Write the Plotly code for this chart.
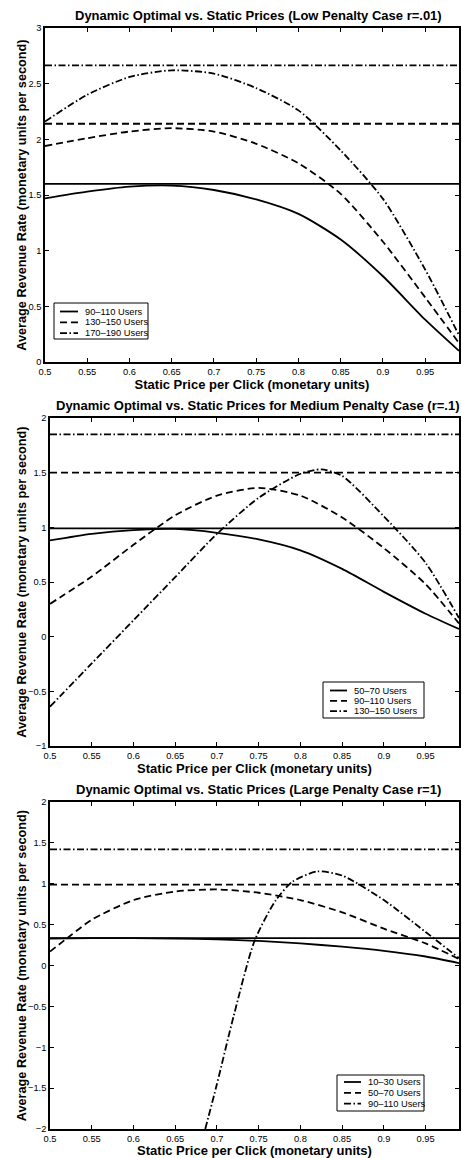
import plotly.graph_objects as go

# ---------------- data ----------------
price_grid = [0.5, 0.55, 0.6, 0.65, 0.7, 0.75, 0.8, 0.85, 0.9, 0.95, 0.99]

# Panel 1 (Low penalty r=.01)
p1_names = ["90\u2013110 Users", "130\u2013150 Users", "170\u2013190 Users"]
p1_dynamic = [1.60, 2.14, 2.665]
p1_solid = [1.47, 1.53, 1.575, 1.585, 1.545, 1.46, 1.33, 1.10, 0.77, 0.38, 0.10]
p1_dash = [1.94, 2.01, 2.07, 2.10, 2.07, 1.96, 1.785, 1.51, 1.08, 0.58, 0.17]
p1_dashdot = [2.16, 2.40, 2.56, 2.62, 2.59, 2.46, 2.26, 1.90, 1.465, 0.83, 0.24]

# Panel 2 (Medium penalty r=.1)
p2_names = ["50\u201370 Users", "90\u2013110 Users", "130\u2013150 Users"]
p2_dynamic = [0.99, 1.50, 1.85]
p2_solid = [0.88, 0.94, 0.975, 0.985, 0.95, 0.89, 0.79, 0.62, 0.41, 0.21, 0.07]
p2_dash = [0.30, 0.55, 0.84, 1.11, 1.29, 1.36, 1.29, 1.09, 0.81, 0.48, 0.12]
p2_dd_x = [0.5, 0.55, 0.6, 0.65, 0.7, 0.75, 0.8, 0.825, 0.85, 0.9, 0.95, 0.99]
p2_dashdot = [-0.64, -0.245, 0.15, 0.545, 0.94, 1.27, 1.49, 1.53, 1.47, 1.10, 0.675, 0.17]

# Panel 3 (Large penalty r=1)
p3_names = ["10\u201330 Users", "50\u201370 Users", "90\u2013110 Users"]
p3_dynamic = [0.335, 0.99, 1.42]
p3_solid = [0.33, 0.335, 0.335, 0.33, 0.32, 0.30, 0.27, 0.23, 0.18, 0.11, 0.03]
p3_dash_x = [0.5, 0.525, 0.55, 0.6, 0.65, 0.7, 0.75, 0.8, 0.85, 0.9, 0.95, 0.99]
p3_dash = [0.17, 0.37, 0.56, 0.80, 0.905, 0.93, 0.89, 0.80, 0.65, 0.45, 0.27, 0.08]
p3_dd_x = [0.686, 0.7, 0.72, 0.745, 0.77, 0.79, 0.82, 0.85, 0.9, 0.95, 0.99]
p3_dashdot = [-2.0, -1.45, -0.62, 0.30, 0.79, 1.02, 1.15, 1.10, 0.80, 0.41, 0.09]

x_range = [0.5, 0.99]
x_ticks = [0.5, 0.55, 0.6, 0.65, 0.7, 0.75, 0.8, 0.85, 0.9, 0.95]
x_ticktext = ["0.5", "0.55", "0.6", "0.65", "0.7", "0.75", "0.8", "0.85", "0.9", "0.95"]

y1_ticks = [0, 0.5, 1, 1.5, 2, 2.5, 3]
y1_text = ["0", "0.5", "1", "1.5", "2", "2.5", "3"]
y2_ticks = [-1, -0.5, 0, 0.5, 1, 1.5, 2]
y2_text = ["\u22121", "\u22120.5", "0", "0.5", "1", "1.5", "2"]
y3_ticks = [-2, -1.5, -1, -0.5, 0, 0.5, 1, 1.5, 2]
y3_text = ["\u22122", "\u22121.5", "\u22121", "\u22120.5", "0", "0.5", "1", "1.5", "2"]

titles = [
    "Dynamic Optimal vs. Static Prices (Low Penalty Case r=.01)",
    "Dynamic Optimal vs. Static Prices for Medium Penalty Case (r=.1)",
    "Dynamic Optimal vs. Static Prices (Large Penalty Case r=1)",
]
x_title = "Static Price per Click (monetary units)"
y_title = "Average Revenue Rate (monetary units per second)"

# ---------------- styling ----------------
FONT = "Liberation Sans, Arial, Helvetica, sans-serif"
W, H = 462, 1158
DASHES = ["solid", "7px,4px", "7px,2.5px,1.5px,2.5px"]
LW = 1.8


def px_x(v):
    return v / W


def px_y(v):
    return 1 - v / H


fig = go.Figure()

panels = [
    dict(curves=[(price_grid, p1_solid), (price_grid, p1_dash), (price_grid, p1_dashdot)],
         dyn=p1_dynamic, names=p1_names, yr=[0, 3], yt=y1_ticks, ytt=y1_text),
    dict(curves=[(price_grid, p2_solid), (price_grid, p2_dash), (p2_dd_x, p2_dashdot)],
         dyn=p2_dynamic, names=p2_names, yr=[-1, 2], yt=y2_ticks, ytt=y2_text),
    dict(curves=[(price_grid, p3_solid), (p3_dash_x, p3_dash), (p3_dd_x, p3_dashdot)],
         dyn=p3_dynamic, names=p3_names, yr=[-2, 2], yt=y3_ticks, ytt=y3_text),
]

# pixel geometry (left, right, top, bottom) of each plot area
geom = [(45, 459, 28, 362), (50, 459, 418, 746), (50, 459, 802, 1129)]
# legend boxes: (left, right, top, bottom, sample_x0, sample_x1, text_x, first_row_y, row_h)
legend_geom = [
    (54, 148, 303, 339, 60, 78, 83, 311.5, 10.8),
    (323, 424, 682, 718, 330, 347, 352, 690.5, 10.3),
    (337, 424, 1075, 1111, 344, 361, 365.5, 1082, 10.8),
]
title_y = [15, 405, 789]
ytitle_x = 21.7

layout = dict(width=W, height=H, margin=dict(l=0, r=0, t=0, b=0),
              paper_bgcolor="white", plot_bgcolor="white", showlegend=False,
              font=dict(family=FONT, color="black", size=9), annotations=[], shapes=[])

for i, p in enumerate(panels):
    n = "" if i == 0 else str(i + 1)
    xa, ya = "x" + n, "y" + n
    for k in range(3):
        cx, cy = p["curves"][k]
        fig.add_trace(go.Scatter(x=cx, y=cy, mode="lines", name=p["names"][k],
                                 xaxis=xa, yaxis=ya,
                                 line=dict(color="black", width=LW, dash=DASHES[k],
                                           shape="spline", smoothing=0.7)))
    for k in range(3):
        fig.add_trace(go.Scatter(x=x_range, y=[p["dyn"][k], p["dyn"][k]], mode="lines",
                                 name=p["names"][k] + " (dynamic)", xaxis=xa, yaxis=ya,
                                 line=dict(color="black", width=LW, dash=DASHES[k])))
    l, r, t, b = geom[i]
    axis_common = dict(showline=True, linecolor="black", linewidth=1.5, mirror="ticks",
                       ticks="inside", ticklen=4, tickwidth=1, tickcolor="black",
                       showgrid=False, zeroline=False, automargin=False,
                       tickfont=dict(size=9.3, family=FONT))
    layout["xaxis" + n] = dict(domain=[px_x(l), px_x(r)], range=x_range, anchor=ya,
                               tickvals=x_ticks, ticktext=x_ticktext,
                               title=dict(text="<b>" + x_title + "</b>", font=dict(size=13), standoff=1),
                               **axis_common)
    layout["yaxis" + n] = dict(domain=[px_y(b), px_y(t)], range=p["yr"], anchor=xa,
                               tickvals=p["yt"], ticktext=p["ytt"],
                               **axis_common)
    # y-axis title
    layout["annotations"].append(dict(text="<b>" + y_title + "</b>", xref="paper", yref="paper",
                                      x=px_x(ytitle_x), y=px_y((t + b) / 2), textangle=-90,
                                      xanchor="center", yanchor="middle", showarrow=False,
                                      font=dict(size=12.7, family=FONT)))
    # panel title
    layout["annotations"].append(dict(text="<b>" + titles[i] + "</b>", xref="paper", yref="paper",
                                      x=px_x(258), y=px_y(title_y[i]), xanchor="center", yanchor="middle",
                                      showarrow=False, font=dict(size=13, family=FONT)))

    # legend (box, line samples, labels)
    bl, br, bt, bb, sx0, sx1, tx, ry0, rh = legend_geom[i]
    layout["shapes"].append(dict(type="rect", xref="paper", yref="paper",
                                 x0=px_x(bl), x1=px_x(br), y0=px_y(bb), y1=px_y(bt),
                                 line=dict(color="black", width=1), fillcolor="white", layer="above"))
    for k in range(3):
        yy = ry0 + k * rh
        layout["shapes"].append(dict(type="line", xref="paper", yref="paper",
                                     x0=px_x(sx0), x1=px_x(sx1), y0=px_y(yy), y1=px_y(yy),
                                     line=dict(color="black", width=LW, dash=DASHES[k]), layer="above"))
        layout["annotations"].append(dict(text=p["names"][k], xref="paper", yref="paper",
                                          x=px_x(tx), y=px_y(yy), xanchor="left", yanchor="middle",
                                          showarrow=False, font=dict(size=9.3, family=FONT)))

fig.update_layout(**layout)
fig.write_html("out.html", config={"displayModeBar": False},
               post_script="document.body.style.margin='0';document.body.style.overflow='hidden';")
